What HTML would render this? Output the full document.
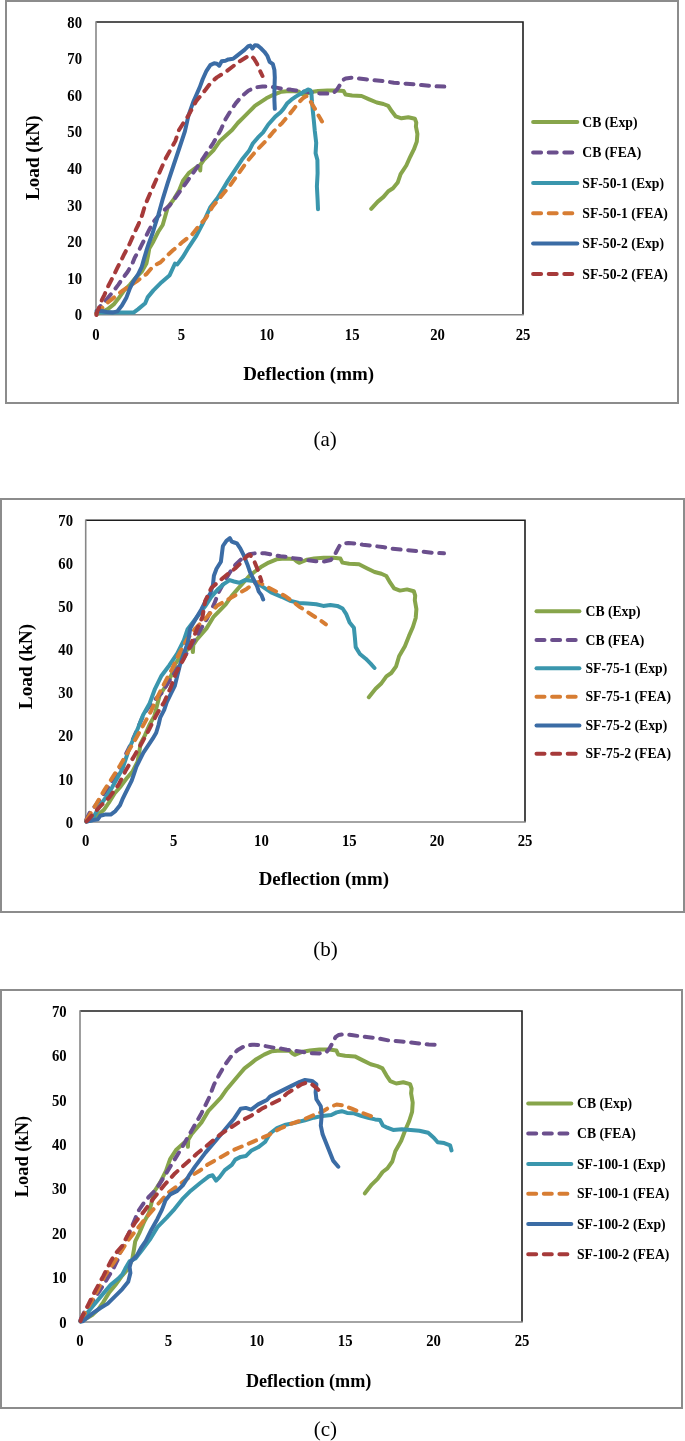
<!DOCTYPE html>
<html><head><meta charset="utf-8"><style>
html,body{margin:0;padding:0;background:#fff;width:685px;height:1441px;overflow:hidden}
svg{display:block;will-change:transform}
</style></head><body>
<svg width="685" height="1441" viewBox="0 0 685 1441">
<rect width="685" height="1441" fill="#fff"/>
<rect x="6" y="1" width="672" height="402" fill="none" stroke="#8c8c8c" stroke-width="2"/>
<path d="M96,22.0 H523 V314.8" fill="none" stroke="#1e1e1e" stroke-width="1.6"/>
<path d="M96,21.2 V314.8 H523.8" fill="none" stroke="#878787" stroke-width="1.6"/>
<text transform="translate(82,320.4) scale(1,1.1)" text-anchor="end" style="font-family:'Liberation Serif',serif;font-weight:bold;font-size:14.7px">0</text>
<text transform="translate(82,283.8) scale(1,1.1)" text-anchor="end" style="font-family:'Liberation Serif',serif;font-weight:bold;font-size:14.7px">10</text>
<text transform="translate(82,247.2) scale(1,1.1)" text-anchor="end" style="font-family:'Liberation Serif',serif;font-weight:bold;font-size:14.7px">20</text>
<text transform="translate(82,210.6) scale(1,1.1)" text-anchor="end" style="font-family:'Liberation Serif',serif;font-weight:bold;font-size:14.7px">30</text>
<text transform="translate(82,174.0) scale(1,1.1)" text-anchor="end" style="font-family:'Liberation Serif',serif;font-weight:bold;font-size:14.7px">40</text>
<text transform="translate(82,137.4) scale(1,1.1)" text-anchor="end" style="font-family:'Liberation Serif',serif;font-weight:bold;font-size:14.7px">50</text>
<text transform="translate(82,100.8) scale(1,1.1)" text-anchor="end" style="font-family:'Liberation Serif',serif;font-weight:bold;font-size:14.7px">60</text>
<text transform="translate(82,64.2) scale(1,1.1)" text-anchor="end" style="font-family:'Liberation Serif',serif;font-weight:bold;font-size:14.7px">70</text>
<text transform="translate(82,27.6) scale(1,1.1)" text-anchor="end" style="font-family:'Liberation Serif',serif;font-weight:bold;font-size:14.7px">80</text>
<text transform="translate(96.0,339.5) scale(1,1.1)" text-anchor="middle" style="font-family:'Liberation Serif',serif;font-weight:bold;font-size:14.7px">0</text>
<text transform="translate(181.4,339.5) scale(1,1.1)" text-anchor="middle" style="font-family:'Liberation Serif',serif;font-weight:bold;font-size:14.7px">5</text>
<text transform="translate(266.8,339.5) scale(1,1.1)" text-anchor="middle" style="font-family:'Liberation Serif',serif;font-weight:bold;font-size:14.7px">10</text>
<text transform="translate(352.2,339.5) scale(1,1.1)" text-anchor="middle" style="font-family:'Liberation Serif',serif;font-weight:bold;font-size:14.7px">15</text>
<text transform="translate(437.6,339.5) scale(1,1.1)" text-anchor="middle" style="font-family:'Liberation Serif',serif;font-weight:bold;font-size:14.7px">20</text>
<text transform="translate(523.0,339.5) scale(1,1.1)" text-anchor="middle" style="font-family:'Liberation Serif',serif;font-weight:bold;font-size:14.7px">25</text>
<text x="0" y="0" transform="translate(38.9,157.7) rotate(-90)" text-anchor="middle" style="font-family:'Liberation Serif',serif;font-weight:bold;font-size:18.7px" textLength="84.5" lengthAdjust="spacingAndGlyphs">Load (kN)</text>
<text x="243.2" y="380" style="font-family:'Liberation Serif',serif;font-weight:bold;font-size:18.7px" textLength="130.8" lengthAdjust="spacingAndGlyphs">Deflection (mm)</text>
<line x1="533.1" y1="122" x2="577.3" y2="122" stroke="#87a54b" stroke-width="4.0" stroke-linecap="round"/>
<text x="582.3" y="126.6" style="font-family:'Liberation Serif',serif;font-weight:bold;font-size:13.7px">CB (Exp)</text>
<line x1="533.1" y1="152.4" x2="577.3" y2="152.4" stroke="#6b4f8d" stroke-width="4.0" stroke-linecap="round" stroke-dasharray="8 7.6"/>
<text x="582.3" y="157.0" style="font-family:'Liberation Serif',serif;font-weight:bold;font-size:13.7px">CB (FEA)</text>
<line x1="533.1" y1="183" x2="577.3" y2="183" stroke="#3a96ad" stroke-width="4.0" stroke-linecap="round"/>
<text x="582.3" y="187.6" style="font-family:'Liberation Serif',serif;font-weight:bold;font-size:13.7px">SF-50-1 (Exp)</text>
<line x1="533.1" y1="213.2" x2="577.3" y2="213.2" stroke="#d77d33" stroke-width="4.0" stroke-linecap="round" stroke-dasharray="8 7.6"/>
<text x="582.3" y="217.79999999999998" style="font-family:'Liberation Serif',serif;font-weight:bold;font-size:13.7px">SF-50-1 (FEA)</text>
<line x1="533.1" y1="243.5" x2="577.3" y2="243.5" stroke="#3b6ca5" stroke-width="4.0" stroke-linecap="round"/>
<text x="582.3" y="248.1" style="font-family:'Liberation Serif',serif;font-weight:bold;font-size:13.7px">SF-50-2 (Exp)</text>
<line x1="533.1" y1="274" x2="577.3" y2="274" stroke="#a63a3a" stroke-width="4.0" stroke-linecap="round" stroke-dasharray="8 7.6"/>
<text x="582.3" y="278.6" style="font-family:'Liberation Serif',serif;font-weight:bold;font-size:13.7px">SF-50-2 (FEA)</text>
<polyline points="96.5,314.2 97.3,313.8 102.0,312.0 107.8,309.1 113.7,304.4 118.4,298.6 124.2,290.4 130.0,284.6 135.9,277.6 141.7,271.7 146.4,263.5 148.1,255.4 149.3,248.4 153.4,241.4 158.1,232.0 162.7,225.0 165.0,217.0 167.8,207.3 173.5,199.7 179.2,190.2 183.0,180.7 188.7,173.1 196.3,167.4 199.3,165.5 200.2,170.5 200.6,164.5 203.9,159.9 213.4,150.4 220.0,140.9 226.0,135.5 232.1,130.0 237.8,123.0 243.5,117.3 249.2,111.6 254.9,105.9 260.6,102.1 266.3,98.3 273.9,94.5 281.5,91.7 289.5,91.1 298.4,91.4 301.0,93.4 303.5,94.7 306.9,93.6 311.2,92.1 318.0,91.1 327.4,90.4 336.9,90.4 343.6,91.1 345.5,94.5 352.1,95.5 361.6,96.0 369.2,99.3 376.8,102.5 383.4,104.0 388.2,105.9 392.0,111.6 395.8,116.4 401.5,118.3 408.3,117.3 414.9,118.8 416.3,122.6 415.9,126.4 417.4,134.0 416.8,141.6 414.0,149.2 410.2,156.8 406.3,165.5 400.6,174.1 397.7,182.6 393.0,188.3 388.3,191.2 383.5,196.9 377.8,201.6 371.2,208.8" fill="none" stroke="#87a54b" stroke-width="4.0" stroke-linecap="round" stroke-linejoin="round"/>
<polyline points="96.5,313.0 100.5,306.0 105.5,300.9 110.2,295.1 114.9,289.2 118.4,284.6 124.2,276.4 127.7,271.7 132.4,263.5 134.7,257.7 139.4,249.5 141.7,244.9 146.4,235.5 149.3,229.7 153.0,222.5 157.4,216.9 163.1,211.1 169.7,205.4 177.3,195.0 184.9,184.5 194.4,171.2 203.9,157.0 213.4,142.8 220.7,130.0 225.5,119.2 230.2,111.6 235.9,103.1 241.6,96.4 248.3,90.7 254.9,87.5 262.5,86.4 270.1,86.6 277.7,87.9 285.3,89.2 290.5,89.6 295.8,90.5 304.7,91.5 311.5,92.4 319.6,93.4 327.6,93.6 334.3,92.3 337.2,89.3 339.9,85.0 342.8,80.2 345.7,78.4 351.3,77.8 358.2,78.4 365.4,79.3 374.9,80.3 384.4,81.2 393.9,82.8 406.4,83.7 421.6,85.1 433.0,86.2 444.3,86.6" fill="none" stroke="#6b4f8d" stroke-width="4.0" stroke-linecap="round" stroke-linejoin="round" stroke-dasharray="8 7.6"/>
<polyline points="96.5,312.6 106.7,312.6 118.4,312.6 133.5,312.6 138.2,309.1 145.2,303.2 147.6,297.4 153.4,290.4 161.6,282.2 169.7,275.2 175.0,263.5 177.3,264.4 183.0,256.8 188.7,247.3 196.3,235.9 203.5,222.0 210.5,206.9 217.5,198.1 222.8,189.3 228.0,180.6 235.0,170.1 242.0,159.6 249.1,150.8 252.6,143.8 257.8,137.7 263.1,132.4 268.3,124.5 275.3,116.6 280.6,112.3 283.5,108.9 287.0,103.6 291.4,99.7 295.8,96.6 300.1,94.0 304.5,91.4 308.0,89.5 310.2,90.1 311.4,93.1 312.0,101.9 312.8,110.7 313.7,119.4 314.8,131.0 316.2,142.8 315.6,153.2 317.4,160.0 317.6,173.1 316.9,186.4 317.6,199.7 318.0,209.2" fill="none" stroke="#3a96ad" stroke-width="4.0" stroke-linecap="round" stroke-linejoin="round"/>
<polyline points="96.5,313.0 98.5,311.4 102.0,307.9 106.7,303.2 111.4,299.7 118.4,293.9 123.0,290.4 130.0,285.7 137.0,281.1 146.4,274.1 153.4,265.9 160.4,262.4 167.4,255.4 173.2,250.1 183.0,241.6 192.5,234.0 200.1,224.5 206.0,218.0 212.3,206.9 221.0,196.4 229.8,185.8 238.5,173.6 247.3,161.3 256.1,150.8 264.8,142.0 273.6,131.5 282.3,122.8 288.8,115.0 293.1,109.8 298.4,102.8 302.8,98.4 305.4,96.6 307.2,96.2 309.8,100.1 312.8,105.4 315.0,108.9 317.7,114.2 320.3,118.5 322.0,121.5" fill="none" stroke="#d77d33" stroke-width="4.0" stroke-linecap="round" stroke-linejoin="round" stroke-dasharray="8 7.6"/>
<polyline points="96.5,311.0 100.8,310.8 106.7,312.0 112.5,312.6 117.2,311.4 121.9,305.6 126.5,297.4 130.0,288.1 133.5,281.1 138.2,274.1 141.7,267.0 144.0,258.9 146.4,250.7 148.7,243.7 152.2,234.3 155.1,225.0 158.3,215.0 163.1,197.8 167.8,182.6 173.5,165.5 179.2,148.5 184.9,131.4 188.5,115.4 193.2,102.1 196.1,95.5 199.9,86.9 202.7,79.3 206.5,70.8 210.3,65.1 214.1,63.2 216.9,63.8 219.2,65.7 221.7,61.3 225.5,60.7 228.3,59.4 233.1,58.8 235.9,56.6 239.7,53.7 244.5,49.9 248.3,46.1 250.2,45.6 252.4,48.4 254.9,45.2 257.7,45.6 260.6,48.0 264.4,51.8 267.2,55.6 269.7,61.9 272.9,64.2 274.4,69.9 274.8,77.4 274.4,90.7 274.4,100.2 274.8,108.8" fill="none" stroke="#3b6ca5" stroke-width="4.0" stroke-linecap="round" stroke-linejoin="round"/>
<polyline points="96.4,315.0 97.3,311.0 98.5,309.1 102.0,299.7 104.3,295.1 108.4,285.7 110.8,281.1 114.9,272.9 117.2,268.2 121.9,258.9 124.2,254.2 128.9,245.4 131.2,240.2 135.9,229.7 138.2,225.0 142.2,215.0 145.0,205.4 150.7,192.1 158.3,175.0 165.9,158.0 175.4,140.9 179.0,130.0 182.8,124.0 188.5,115.4 196.1,101.2 200.8,95.5 205.5,89.8 211.2,82.2 216.9,77.4 224.5,72.7 232.1,67.0 239.7,61.3 247.3,56.6 249.5,55.5 251.1,55.6 253.9,58.5 256.8,63.2 259.6,69.9 262.5,76.0" fill="none" stroke="#a63a3a" stroke-width="4.0" stroke-linecap="round" stroke-linejoin="round" stroke-dasharray="8 7.6"/>
<rect x="1" y="499" width="683" height="413" fill="none" stroke="#8c8c8c" stroke-width="2"/>
<path d="M85.7,520.3 H525 V822" fill="none" stroke="#1e1e1e" stroke-width="1.6"/>
<path d="M85.7,519.5 V822 H525.8" fill="none" stroke="#878787" stroke-width="1.6"/>
<text transform="translate(73,827.6) scale(1,1.1)" text-anchor="end" style="font-family:'Liberation Serif',serif;font-weight:bold;font-size:14.7px">0</text>
<text transform="translate(73,784.5) scale(1,1.1)" text-anchor="end" style="font-family:'Liberation Serif',serif;font-weight:bold;font-size:14.7px">10</text>
<text transform="translate(73,741.4) scale(1,1.1)" text-anchor="end" style="font-family:'Liberation Serif',serif;font-weight:bold;font-size:14.7px">20</text>
<text transform="translate(73,698.3) scale(1,1.1)" text-anchor="end" style="font-family:'Liberation Serif',serif;font-weight:bold;font-size:14.7px">30</text>
<text transform="translate(73,655.2) scale(1,1.1)" text-anchor="end" style="font-family:'Liberation Serif',serif;font-weight:bold;font-size:14.7px">40</text>
<text transform="translate(73,612.1) scale(1,1.1)" text-anchor="end" style="font-family:'Liberation Serif',serif;font-weight:bold;font-size:14.7px">50</text>
<text transform="translate(73,569.0) scale(1,1.1)" text-anchor="end" style="font-family:'Liberation Serif',serif;font-weight:bold;font-size:14.7px">60</text>
<text transform="translate(73,525.9) scale(1,1.1)" text-anchor="end" style="font-family:'Liberation Serif',serif;font-weight:bold;font-size:14.7px">70</text>
<text transform="translate(85.7,845.5) scale(1,1.1)" text-anchor="middle" style="font-family:'Liberation Serif',serif;font-weight:bold;font-size:14.7px">0</text>
<text transform="translate(173.6,845.5) scale(1,1.1)" text-anchor="middle" style="font-family:'Liberation Serif',serif;font-weight:bold;font-size:14.7px">5</text>
<text transform="translate(261.4,845.5) scale(1,1.1)" text-anchor="middle" style="font-family:'Liberation Serif',serif;font-weight:bold;font-size:14.7px">10</text>
<text transform="translate(349.3,845.5) scale(1,1.1)" text-anchor="middle" style="font-family:'Liberation Serif',serif;font-weight:bold;font-size:14.7px">15</text>
<text transform="translate(437.1,845.5) scale(1,1.1)" text-anchor="middle" style="font-family:'Liberation Serif',serif;font-weight:bold;font-size:14.7px">20</text>
<text transform="translate(525.0,845.5) scale(1,1.1)" text-anchor="middle" style="font-family:'Liberation Serif',serif;font-weight:bold;font-size:14.7px">25</text>
<text x="0" y="0" transform="translate(31.8,666.5) rotate(-90)" text-anchor="middle" style="font-family:'Liberation Serif',serif;font-weight:bold;font-size:18.7px" textLength="85.5" lengthAdjust="spacingAndGlyphs">Load (kN)</text>
<text x="258.7" y="884.5" style="font-family:'Liberation Serif',serif;font-weight:bold;font-size:18.7px" textLength="130.3" lengthAdjust="spacingAndGlyphs">Deflection (mm)</text>
<line x1="536.5" y1="611.2" x2="579.4" y2="611.2" stroke="#87a54b" stroke-width="4.0" stroke-linecap="round"/>
<text x="585.5" y="615.8000000000001" style="font-family:'Liberation Serif',serif;font-weight:bold;font-size:13.7px">CB (Exp)</text>
<line x1="536.5" y1="639.9" x2="579.4" y2="639.9" stroke="#6b4f8d" stroke-width="4.0" stroke-linecap="round" stroke-dasharray="8 7.6"/>
<text x="585.5" y="644.5" style="font-family:'Liberation Serif',serif;font-weight:bold;font-size:13.7px">CB (FEA)</text>
<line x1="536.5" y1="668.3" x2="579.4" y2="668.3" stroke="#3a96ad" stroke-width="4.0" stroke-linecap="round"/>
<text x="585.5" y="672.9" style="font-family:'Liberation Serif',serif;font-weight:bold;font-size:13.7px">SF-75-1 (Exp)</text>
<line x1="536.5" y1="696.7" x2="579.4" y2="696.7" stroke="#d77d33" stroke-width="4.0" stroke-linecap="round" stroke-dasharray="8 7.6"/>
<text x="585.5" y="701.3000000000001" style="font-family:'Liberation Serif',serif;font-weight:bold;font-size:13.7px">SF-75-1 (FEA)</text>
<line x1="536.5" y1="725.4" x2="579.4" y2="725.4" stroke="#3b6ca5" stroke-width="4.0" stroke-linecap="round"/>
<text x="585.5" y="730.0" style="font-family:'Liberation Serif',serif;font-weight:bold;font-size:13.7px">SF-75-2 (Exp)</text>
<line x1="536.5" y1="753.8" x2="579.4" y2="753.8" stroke="#a63a3a" stroke-width="4.0" stroke-linecap="round" stroke-dasharray="8 7.6"/>
<text x="585.5" y="758.4" style="font-family:'Liberation Serif',serif;font-weight:bold;font-size:13.7px">SF-75-2 (FEA)</text>
<polyline points="86.2,821.3 87.0,820.8 91.9,818.7 97.8,815.3 103.9,809.8 108.7,802.9 114.7,793.3 120.7,786.4 126.7,778.2 132.7,771.2 137.6,761.6 139.3,752.1 140.5,743.8 144.8,735.6 149.6,724.5 154.3,716.3 156.7,706.8 159.6,695.4 165.4,686.5 171.3,675.3 175.2,664.1 181.1,655.1 188.9,648.4 192.0,646.2 192.9,652.1 193.3,645.0 196.7,639.6 206.5,628.4 213.3,617.2 219.4,610.9 225.7,604.4 231.6,596.1 237.4,589.4 243.3,582.7 249.2,576.0 255.0,571.5 260.9,567.1 268.7,562.6 276.5,559.3 284.8,558.6 293.9,558.9 296.6,561.2 299.2,562.8 302.7,561.5 307.1,559.7 314.1,558.6 323.8,557.7 333.5,557.7 340.4,558.6 342.4,562.6 349.2,563.8 359.0,564.3 366.8,568.2 374.6,572.0 381.4,573.8 386.3,576.0 390.2,582.7 394.1,588.4 400.0,590.6 407.0,589.4 413.8,591.2 415.2,595.7 414.8,600.1 416.4,609.1 415.7,618.0 412.9,627.0 409.0,635.9 404.9,646.2 399.1,656.3 396.1,666.3 391.3,673.0 386.4,676.4 381.5,683.2 375.6,688.7 368.8,697.2" fill="none" stroke="#87a54b" stroke-width="4.0" stroke-linecap="round" stroke-linejoin="round"/>
<polyline points="86.2,819.9 90.3,811.6 95.5,805.6 100.3,798.8 105.1,791.9 108.7,786.4 114.7,776.8 118.3,771.2 123.1,761.6 125.5,754.8 130.4,745.1 132.7,739.7 137.6,728.6 140.5,721.8 144.3,713.3 148.9,706.7 154.7,699.9 161.5,693.2 169.3,680.9 177.2,668.6 186.9,652.9 196.7,636.2 206.5,619.5 214.0,604.4 218.9,591.7 223.8,582.7 229.6,572.7 235.5,564.8 242.4,558.1 249.2,554.3 257.0,553.0 264.8,553.3 272.6,554.8 280.5,556.3 285.8,556.8 291.3,557.9 300.4,559.1 307.5,560.1 315.7,561.3 324.0,561.5 330.8,560.0 333.8,556.5 336.6,551.3 339.6,545.7 342.6,543.6 348.4,542.9 355.4,543.6 362.9,544.7 372.6,545.9 382.4,546.9 392.2,548.8 405.0,549.9 420.7,551.5 432.4,552.8 444.0,553.3" fill="none" stroke="#6b4f8d" stroke-width="4.0" stroke-linecap="round" stroke-linejoin="round" stroke-dasharray="8 7.6"/>
<polyline points="86.5,821.5 92.0,820.4 95.5,813.4 100.2,805.3 106.0,797.1 111.9,787.7 117.7,777.2 122.4,769.1 125.9,758.5 129.4,748.0 134.1,737.5 137.9,728.3 143.1,715.1 149.7,703.3 155.0,688.8 161.5,675.7 169.4,665.2 177.3,653.4 183.9,640.2 187.6,629.2 196.4,617.8 205.1,606.4 211.3,596.8 218.3,588.9 224.4,583.6 229.7,580.1 234.0,581.5 239.3,582.8 245.0,580.1 253.6,581.1 260.6,585.4 271.1,592.4 281.6,596.8 290.0,600.7 298.8,602.9 307.5,603.6 316.3,604.2 323.3,605.9 330.3,605.0 337.3,605.9 342.6,608.5 346.1,613.8 349.6,622.6 353.9,627.8 354.8,636.6 355.7,647.1 359.9,654.0 365.7,658.7 370.4,663.4 374.5,668.0" fill="none" stroke="#3a96ad" stroke-width="4.0" stroke-linecap="round" stroke-linejoin="round"/>
<polyline points="86.5,820.0 88.5,816.9 95.5,805.3 103.7,791.2 111.9,778.4 120.0,765.5 128.2,751.5 135.2,739.9 143.1,725.6 151.0,711.2 157.6,696.7 164.2,683.6 172.0,669.1 178.6,654.7 186.5,640.2 195.5,628.3 206.9,616.9 217.4,605.5 229.7,598.5 241.9,591.5 246.6,588.9 253.6,583.7 258.8,581.9 265.8,586.3 274.6,590.7 285.1,596.0 292.6,601.5 299.6,606.8 307.5,612.0 312.8,615.5 319.8,619.9 325.9,624.3" fill="none" stroke="#d77d33" stroke-width="4.0" stroke-linecap="round" stroke-linejoin="round" stroke-dasharray="8 7.6"/>
<polyline points="86.5,821.6 92.0,820.4 97.8,819.3 100.2,815.8 104.9,814.6 110.7,814.6 115.4,811.1 120.0,805.3 122.4,799.4 124.7,794.7 128.2,787.7 131.7,780.7 134.1,773.7 136.4,766.7 139.9,759.7 143.4,752.7 148.1,745.7 152.7,738.7 156.2,732.8 158.6,724.7 160.2,717.7 164.2,709.9 166.8,702.0 170.7,694.1 174.7,686.2 177.3,675.7 179.9,665.2 183.9,653.4 187.8,642.8 190.3,628.3 196.4,617.8 201.6,609.0 206.0,600.3 210.4,593.3 213.0,584.5 213.9,575.8 216.5,568.8 220.9,561.8 222.0,553.0 222.9,546.0 226.4,540.8 229.9,538.1 231.7,541.6 234.3,542.5 236.9,543.4 240.4,548.7 243.9,555.7 247.4,564.4 250.1,572.3 253.6,579.3 257.1,586.3 258.8,591.6 261.5,595.1 263.2,599.5" fill="none" stroke="#3b6ca5" stroke-width="4.0" stroke-linecap="round" stroke-linejoin="round"/>
<polyline points="86.5,821.5 88.5,819.3 99.0,807.6 109.5,797.1 118.9,784.2 125.9,770.2 134.1,756.2 142.2,742.2 149.2,729.3 151.0,725.6 156.3,715.1 164.2,702.0 170.7,687.5 176.0,673.1 183.9,658.6 190.4,645.5 197.3,628.3 202.5,616.9 205.1,601.2 211.3,588.0 223.5,577.5 235.8,567.9 242.8,560.9 246.6,556.5 250.1,554.8 254.5,561.8 258.0,570.5 261.5,581.1" fill="none" stroke="#a63a3a" stroke-width="4.0" stroke-linecap="round" stroke-linejoin="round" stroke-dasharray="8 7.6"/>
<rect x="1" y="990" width="681" height="418" fill="none" stroke="#8c8c8c" stroke-width="2"/>
<path d="M80,1011 H522 V1322" fill="none" stroke="#1e1e1e" stroke-width="1.6"/>
<path d="M80,1010.2 V1322 H522.8" fill="none" stroke="#878787" stroke-width="1.6"/>
<text transform="translate(66.6,1327.6) scale(1,1.1)" text-anchor="end" style="font-family:'Liberation Serif',serif;font-weight:bold;font-size:14.7px">0</text>
<text transform="translate(66.6,1283.2) scale(1,1.1)" text-anchor="end" style="font-family:'Liberation Serif',serif;font-weight:bold;font-size:14.7px">10</text>
<text transform="translate(66.6,1238.7) scale(1,1.1)" text-anchor="end" style="font-family:'Liberation Serif',serif;font-weight:bold;font-size:14.7px">20</text>
<text transform="translate(66.6,1194.3) scale(1,1.1)" text-anchor="end" style="font-family:'Liberation Serif',serif;font-weight:bold;font-size:14.7px">30</text>
<text transform="translate(66.6,1149.9) scale(1,1.1)" text-anchor="end" style="font-family:'Liberation Serif',serif;font-weight:bold;font-size:14.7px">40</text>
<text transform="translate(66.6,1105.5) scale(1,1.1)" text-anchor="end" style="font-family:'Liberation Serif',serif;font-weight:bold;font-size:14.7px">50</text>
<text transform="translate(66.6,1061.0) scale(1,1.1)" text-anchor="end" style="font-family:'Liberation Serif',serif;font-weight:bold;font-size:14.7px">60</text>
<text transform="translate(66.6,1016.6) scale(1,1.1)" text-anchor="end" style="font-family:'Liberation Serif',serif;font-weight:bold;font-size:14.7px">70</text>
<text transform="translate(80.0,1345.8) scale(1,1.1)" text-anchor="middle" style="font-family:'Liberation Serif',serif;font-weight:bold;font-size:14.7px">0</text>
<text transform="translate(168.4,1345.8) scale(1,1.1)" text-anchor="middle" style="font-family:'Liberation Serif',serif;font-weight:bold;font-size:14.7px">5</text>
<text transform="translate(256.8,1345.8) scale(1,1.1)" text-anchor="middle" style="font-family:'Liberation Serif',serif;font-weight:bold;font-size:14.7px">10</text>
<text transform="translate(345.2,1345.8) scale(1,1.1)" text-anchor="middle" style="font-family:'Liberation Serif',serif;font-weight:bold;font-size:14.7px">15</text>
<text transform="translate(433.6,1345.8) scale(1,1.1)" text-anchor="middle" style="font-family:'Liberation Serif',serif;font-weight:bold;font-size:14.7px">20</text>
<text transform="translate(522.0,1345.8) scale(1,1.1)" text-anchor="middle" style="font-family:'Liberation Serif',serif;font-weight:bold;font-size:14.7px">25</text>
<text x="0" y="0" transform="translate(28,1156.6) rotate(-90)" text-anchor="middle" style="font-family:'Liberation Serif',serif;font-weight:bold;font-size:18.7px" textLength="81.5" lengthAdjust="spacingAndGlyphs">Load (kN)</text>
<text x="245.9" y="1387.2" style="font-family:'Liberation Serif',serif;font-weight:bold;font-size:18.7px" textLength="125.5" lengthAdjust="spacingAndGlyphs">Deflection (mm)</text>
<line x1="528.2" y1="1103.6" x2="571.3" y2="1103.6" stroke="#87a54b" stroke-width="4.0" stroke-linecap="round"/>
<text x="577" y="1108.1999999999998" style="font-family:'Liberation Serif',serif;font-weight:bold;font-size:13.7px">CB (Exp)</text>
<line x1="528.2" y1="1133.4" x2="571.3" y2="1133.4" stroke="#6b4f8d" stroke-width="4.0" stroke-linecap="round" stroke-dasharray="8 7.6"/>
<text x="577" y="1138.0" style="font-family:'Liberation Serif',serif;font-weight:bold;font-size:13.7px">CB (FEA)</text>
<line x1="528.2" y1="1163.9" x2="571.3" y2="1163.9" stroke="#3a96ad" stroke-width="4.0" stroke-linecap="round"/>
<text x="577" y="1168.5" style="font-family:'Liberation Serif',serif;font-weight:bold;font-size:13.7px">SF-100-1 (Exp)</text>
<line x1="528.2" y1="1193.7" x2="571.3" y2="1193.7" stroke="#d77d33" stroke-width="4.0" stroke-linecap="round" stroke-dasharray="8 7.6"/>
<text x="577" y="1198.3" style="font-family:'Liberation Serif',serif;font-weight:bold;font-size:13.7px">SF-100-1 (FEA)</text>
<line x1="528.2" y1="1224" x2="571.3" y2="1224" stroke="#3b6ca5" stroke-width="4.0" stroke-linecap="round"/>
<text x="577" y="1228.6" style="font-family:'Liberation Serif',serif;font-weight:bold;font-size:13.7px">SF-100-2 (Exp)</text>
<line x1="528.2" y1="1254.2" x2="571.3" y2="1254.2" stroke="#a63a3a" stroke-width="4.0" stroke-linecap="round" stroke-dasharray="8 7.6"/>
<text x="577" y="1258.8" style="font-family:'Liberation Serif',serif;font-weight:bold;font-size:13.7px">SF-100-2 (FEA)</text>
<polyline points="80.5,1321.3 81.3,1320.8 86.2,1318.6 92.2,1315.1 98.3,1309.4 103.2,1302.3 109.2,1292.4 115.2,1285.3 121.3,1276.8 127.3,1269.7 132.2,1259.7 133.9,1249.9 135.2,1241.4 139.4,1232.9 144.3,1221.5 149.0,1213.0 151.4,1203.3 154.3,1191.5 160.2,1182.3 166.1,1170.7 170.1,1159.2 176.0,1150.0 183.8,1143.1 186.9,1140.8 187.9,1146.8 188.3,1139.6 191.7,1134.0 201.5,1122.4 208.4,1110.9 214.6,1104.3 220.9,1097.7 226.8,1089.2 232.7,1082.3 238.6,1075.3 244.5,1068.4 250.4,1063.8 256.3,1059.2 264.1,1054.6 272.0,1051.2 280.3,1050.5 289.5,1050.8 292.2,1053.2 294.8,1054.8 298.3,1053.4 302.8,1051.7 309.8,1050.5 319.5,1049.6 329.4,1049.6 336.3,1050.5 338.3,1054.6 345.1,1055.8 354.9,1056.4 362.8,1060.4 370.7,1064.3 377.5,1066.1 382.5,1068.4 386.4,1075.3 390.3,1081.2 396.2,1083.5 403.3,1082.3 410.1,1084.1 411.6,1088.7 411.1,1093.3 412.7,1102.5 412.1,1111.8 409.2,1121.0 405.2,1130.2 401.2,1140.8 395.3,1151.2 392.3,1161.5 387.4,1168.4 382.6,1172.0 377.6,1178.9 371.7,1184.6 364.9,1193.3" fill="none" stroke="#87a54b" stroke-width="4.0" stroke-linecap="round" stroke-linejoin="round"/>
<polyline points="80.5,1319.8 84.7,1311.3 89.8,1305.1 94.7,1298.1 99.6,1290.9 103.2,1285.3 109.2,1275.4 112.8,1269.7 117.7,1259.7 120.1,1252.7 124.9,1242.7 127.3,1237.1 132.2,1225.7 135.2,1218.7 139.0,1210.0 143.6,1203.2 149.5,1196.1 156.3,1189.2 164.2,1176.6 172.0,1163.8 181.9,1147.7 191.7,1130.4 201.5,1113.2 209.1,1097.7 214.0,1084.6 218.9,1075.3 224.8,1065.0 230.7,1056.9 237.7,1050.0 244.5,1046.1 252.3,1044.7 260.2,1045.0 268.1,1046.6 275.9,1048.1 281.3,1048.6 286.8,1049.7 296.0,1051.0 303.1,1052.0 311.4,1053.3 319.7,1053.4 326.6,1051.9 329.6,1048.3 332.5,1043.0 335.5,1037.2 338.5,1035.0 344.3,1034.3 351.4,1035.0 358.9,1036.1 368.7,1037.3 378.5,1038.4 388.4,1040.4 401.3,1041.5 417.0,1043.2 428.8,1044.5 440.5,1045.0" fill="none" stroke="#6b4f8d" stroke-width="4.0" stroke-linecap="round" stroke-linejoin="round" stroke-dasharray="8 7.6"/>
<polyline points="80.5,1321.5 81.5,1321.2 88.8,1311.0 96.1,1302.2 103.4,1293.4 110.7,1284.7 118.0,1278.8 122.3,1274.5 125.3,1268.6 129.6,1261.3 135.5,1258.4 141.3,1251.1 150.4,1238.8 157.4,1227.1 166.7,1217.7 174.5,1209.1 182.3,1199.2 190.8,1190.7 200.2,1183.0 209.1,1176.2 212.6,1175.3 216.1,1180.6 219.6,1177.1 224.8,1170.1 231.8,1164.8 235.3,1159.6 240.6,1156.9 245.8,1156.1 251.1,1150.8 258.1,1147.3 265.1,1142.0 270.0,1133.5 277.0,1128.2 285.8,1124.7 294.5,1122.9 305.0,1120.3 313.8,1117.7 322.6,1115.9 331.3,1115.0 336.6,1112.4 341.8,1111.2 347.1,1112.9 354.1,1113.3 361.1,1115.9 368.1,1117.7 375.1,1119.4 380.0,1120.0 382.9,1125.5 387.3,1127.7 393.1,1129.9 401.9,1129.2 410.7,1129.9 419.4,1130.7 428.2,1132.8 434.0,1138.0 437.7,1142.3 444.2,1143.1 450.1,1145.3 451.5,1150.4" fill="none" stroke="#3a96ad" stroke-width="4.0" stroke-linecap="round" stroke-linejoin="round"/>
<polyline points="81.0,1320.0 82.9,1316.8 90.2,1303.6 97.5,1290.5 104.8,1275.9 113.6,1262.8 122.3,1249.6 128.5,1239.9 139.0,1226.5 148.5,1215.0 158.5,1203.5 168.5,1192.5 180.0,1184.0 191.0,1176.0 200.0,1170.5 207.3,1164.8 219.6,1157.8 231.8,1150.8 244.1,1145.5 256.4,1140.3 268.6,1135.0 280.3,1128.5 291.0,1123.8 301.5,1120.3 312.0,1115.9 322.6,1111.5 329.6,1107.2 336.6,1104.5 343.6,1105.4 352.3,1108.9 361.1,1112.4 368.1,1115.0 375.1,1117.7" fill="none" stroke="#d77d33" stroke-width="4.0" stroke-linecap="round" stroke-linejoin="round" stroke-dasharray="8 7.6"/>
<polyline points="80.5,1321.5 82.9,1321.2 91.7,1313.9 100.4,1308.0 107.7,1303.6 115.0,1296.4 122.3,1289.1 128.2,1281.8 130.4,1273.0 129.6,1267.2 131.1,1261.3 136.9,1255.5 141.0,1248.0 145.7,1241.1 151.5,1229.4 157.4,1218.9 162.0,1209.6 165.5,1200.2 170.2,1194.4 177.2,1190.9 183.1,1185.0 188.9,1175.7 195.0,1166.6 205.5,1152.6 216.1,1140.3 224.8,1129.8 233.6,1119.3 240.6,1108.8 245.8,1107.9 251.1,1109.6 258.1,1104.4 266.9,1100.0 270.0,1096.6 280.5,1091.4 291.0,1086.1 299.8,1081.8 305.0,1080.0 312.0,1080.9 316.4,1084.4 315.6,1092.3 316.4,1099.3 320.8,1106.3 321.7,1115.0 320.8,1125.6 322.6,1134.3 326.1,1143.1 329.6,1151.8 333.1,1160.6 338.3,1166.7" fill="none" stroke="#3b6ca5" stroke-width="4.0" stroke-linecap="round" stroke-linejoin="round"/>
<polyline points="80.5,1321.0 81.5,1318.2 88.8,1303.6 96.1,1289.1 103.4,1275.9 110.7,1261.3 116.0,1253.0 122.3,1245.8 127.0,1236.4 135.2,1222.4 144.5,1210.7 153.9,1197.9 164.4,1185.0 174.9,1173.4 185.4,1164.0 197.1,1153.5 209.1,1143.8 219.6,1135.0 230.1,1128.0 240.6,1121.0 251.1,1115.8 261.6,1108.8 272.1,1103.5 280.0,1099.5 287.5,1093.1 301.5,1084.4 306.8,1082.6 312.0,1084.4 316.4,1087.9 320.8,1092.3" fill="none" stroke="#a63a3a" stroke-width="4.0" stroke-linecap="round" stroke-linejoin="round" stroke-dasharray="8 7.6"/>
<text x="325.2" y="446.3" text-anchor="middle" style="font-family:'Liberation Serif',serif;font-size:21px">(a)</text>
<text x="325.4" y="955.9" text-anchor="middle" style="font-family:'Liberation Serif',serif;font-size:21px">(b)</text>
<text x="325.3" y="1436.3" text-anchor="middle" style="font-family:'Liberation Serif',serif;font-size:21px">(c)</text>
</svg></body></html>
